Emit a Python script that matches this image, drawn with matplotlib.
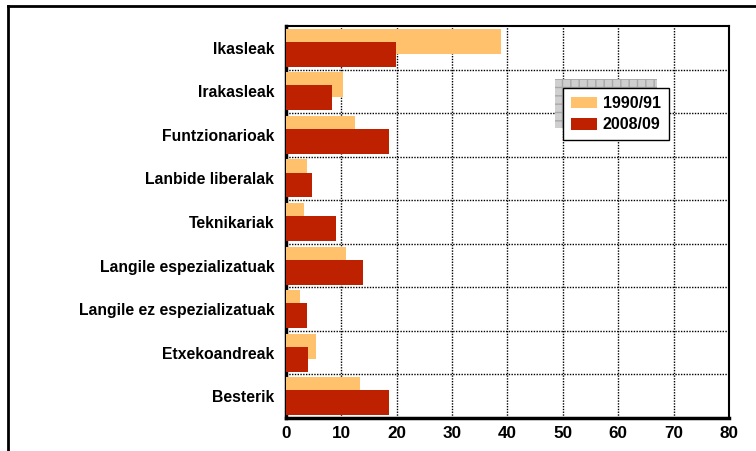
import matplotlib
matplotlib.use('Agg')
import matplotlib.pyplot as plt
from matplotlib.patches import Rectangle
from matplotlib.lines import Line2D
import numpy as np

plt.rcParams['font.family'] = ['Liberation Sans', 'DejaVu Sans']
plt.rcParams['font.weight'] = 'bold'

# data (percent)
categories = ['Ikasleak', 'Irakasleak', 'Funtzionarioak', 'Lanbide liberalak',
              'Teknikariak', 'Langile espezializatuak', 'Langile ez espezializatuak',
              'Etxekoandreak', 'Besterik']
vals_1990 = [38.8, 10.3, 12.5, 3.8, 3.2, 10.8, 2.5, 5.4, 13.4]
vals_2008 = [19.9, 8.3, 18.6, 4.7, 9.0, 13.9, 3.8, 4.0, 18.6]
series_labels = ['1990/91', '2008/09']
xticks = [0, 10, 20, 30, 40, 50, 60, 70, 80]

c_light = '#FFC16B'
c_dark = '#BE2100'

W, H = 756, 451
fig = plt.figure(figsize=(W / 100, H / 100), dpi=100)
ax = fig.add_axes([286 / W, 1 - 418 / H, (729 - 286) / W, (418 - 26) / H])

y = np.arange(len(categories))
ax.barh(y - 0.15, vals_1990, height=0.57, color=c_light, zorder=3, label=series_labels[0])
ax.barh(y + 0.15, vals_2008, height=0.57, color=c_dark, zorder=4, label=series_labels[1])

ax.set_xlim(0, 80)
ax.set_ylim(len(categories) - 0.5, -0.5)
ax.set_xticks(xticks)
ax.set_yticks(y)
ax.set_yticklabels(categories, fontsize=11.3, fontweight='bold')
ax.set_xticklabels([str(t) for t in xticks], fontsize=12.3, fontweight='bold')
ax.set_yticks(np.arange(len(categories) - 1) + 0.5, minor=True)
ax.tick_params(axis='both', which='both', length=0)
ax.tick_params(axis='x', pad=6)
ax.tick_params(axis='y', pad=8.5)

ax.grid(axis='x', which='major', color='black', linestyle=(0, (1, 1)), linewidth=1, zorder=1)
ax.grid(axis='y', which='minor', color='black', linestyle=(0, (1, 1)), linewidth=1, zorder=1)
ax.set_axisbelow(True)

for s in ['top', 'right']:
    ax.spines[s].set_linewidth(1.5)
for s in ['left', 'bottom']:
    ax.spines[s].set_linewidth(2.5)

# legend shadow (grey checkered block behind the box)
shadow = Rectangle((555 / W, 1 - 128 / H), (657 - 555) / W, (128 - 79) / H,
                   transform=fig.transFigure, facecolor='#cfcfcf', edgecolor='#a8a8a8',
                   hatch='++', linewidth=0, zorder=5, clip_on=False)
ax.add_artist(shadow)

leg = ax.legend(loc='upper left', bbox_to_anchor=(563 / W, 1 - 88 / H),
                bbox_transform=fig.transFigure, borderaxespad=0,
                prop={'size': 11.5, 'weight': 'bold'}, fancybox=False,
                framealpha=1, edgecolor='black', handlelength=1.6,
                handleheight=0.75, handletextpad=0.4, labelspacing=0.4,
                borderpad=0.5)
leg.get_frame().set_linewidth(1)
leg.set_zorder(6)

# outer frame of the chart area
fig.add_artist(Line2D([8 / W, 8 / W], [0, 1 - 6 / H], transform=fig.transFigure,
                      color='black', linewidth=2))
fig.add_artist(Line2D([8 / W, 1], [1 - 6 / H, 1 - 6 / H], transform=fig.transFigure,
                      color='black', linewidth=2))

fig.savefig('out.png', dpi=100)
